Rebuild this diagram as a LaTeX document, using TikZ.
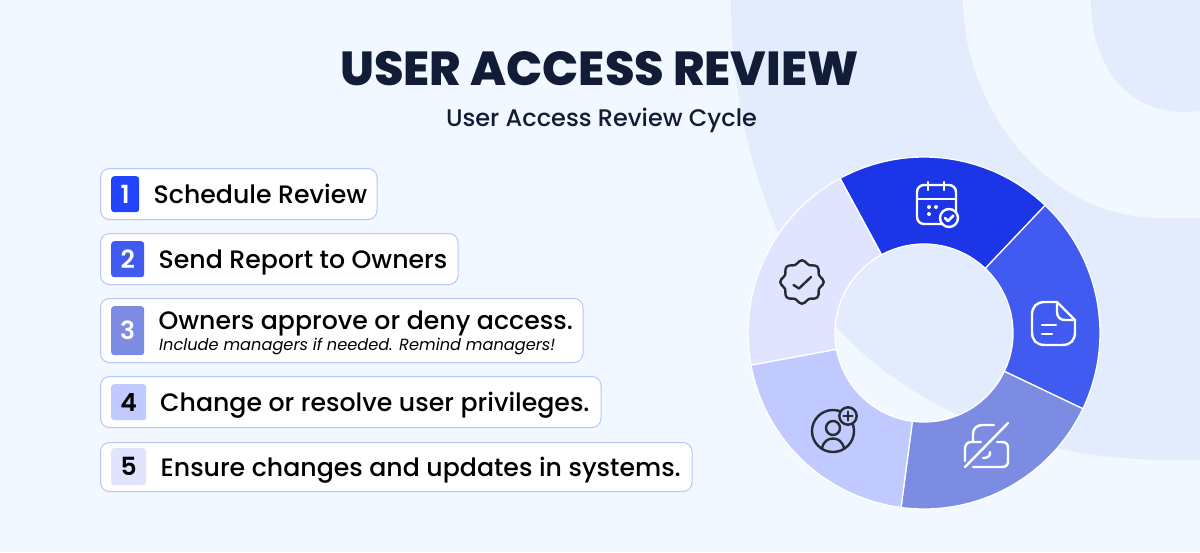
\documentclass[tikz,border=0pt]{standalone}
\usepackage{fontspec}
\setmainfont{Poppins}
\newfontfamily\pmed{Poppins Medium}
\newfontfamily\psemi{Poppins SemiBold}
\newfontfamily\pxb{Poppins ExtraBold}
\definecolor{bgc}{HTML}{F2F8FF}
\definecolor{band}{HTML}{E2ECFC}
\definecolor{segA}{HTML}{1C35E6}
\definecolor{segB}{HTML}{415AEF}
\definecolor{segC}{HTML}{7D8CE3}
\definecolor{segD}{HTML}{C0CAFF}
\definecolor{segE}{HTML}{E0E4FF}
\definecolor{badA}{HTML}{2344FF}
\definecolor{cardline}{HTML}{B9C5FB}
\definecolor{ink}{HTML}{111C36}
\definecolor{icon}{HTML}{272B33}
\tikzset{
  card/.style={draw=cardline,fill=white,line width=1pt,rounded corners=9pt,anchor=north west,inner sep=0pt},
  badge/.style={rounded corners=3pt,anchor=north west,inner sep=0pt,text=white,font=\psemi\fontsize{25}{25}\selectfont},
  lab/.style={anchor=base west,inner sep=0pt,text=black,font=\pmed\fontsize{25.2}{25}\selectfont},
  sector/.style={draw=white,line width=1.3pt,line join=miter},
  wicon/.style={draw=white,line width=2.4pt,line cap=round,line join=round},
  dicon/.style={draw=icon,line width=2.4pt,line cap=round,line join=round}
}
\newcommand{\sect}[3]{\fill[#1,sector] ($(924,-333)+(#2:176)$) arc[start angle=#2,end angle=#3,radius=176] -- ($(924,-333)+(#3:89)$) arc[start angle=#3,end angle=#2,radius=89] -- cycle;}
\usetikzlibrary{calc}
\begin{document}
\begin{tikzpicture}[x=1pt,y=1pt]
\useasboundingbox (0,0) rectangle (1200,-552);
\fill[bgc] (0,0) rectangle (1200,-552);
% background bands
\fill[band] (731,0) .. controls (731,-130) and (772,-250) .. (835,-325)
  .. controls (900,-400) and (1020,-460) .. (1170,-460) -- (1200,-460) -- (1200,0) -- cycle;
\fill[bgc] (963,0) .. controls (963,-100) and (1040,-217) .. (1160,-218) -- (1200,-218) -- (1200,0) -- cycle;
\fill[band] (1091,0) .. controls (1091,-70) and (1130,-112) .. (1185,-112) -- (1200,-111) -- (1200,0) -- cycle;
% title
\node[anchor=base,inner sep=0pt,text=ink,font=\pxb\fontsize{47.7}{48}\selectfont] (title) at (599.5,-85) {USER ACCESS REVIEW};
\node[anchor=base,inner sep=0pt,text=ink,font=\pmed\fontsize{24}{24}\selectfont] (sub) at (601.5,-126) {User Access Review Cycle};
% cards
\node[card,minimum width=276.5,minimum height=51] (c1) at (100,-168) {};
\node[card,minimum width=357.5,minimum height=51] (c2) at (100,-233) {};
\node[card,minimum width=482.5,minimum height=64] (c3) at (100,-298) {};
\node[card,minimum width=500.5,minimum height=51] (c4) at (100,-376) {};
\node[card,minimum width=591.5,minimum height=49] (c5) at (100,-442) {};
\node[badge,fill=badA,minimum width=28,minimum height=36] (b1) at (111,-176) {1};
\node[badge,fill=segB,minimum width=33,minimum height=36] (b2) at (111,-241) {2};
\node[badge,fill=segC,minimum width=33,minimum height=49] (b3) at (111,-306) {3};
\node[badge,fill=segD,text=black,minimum width=35,minimum height=36] (b4) at (111,-384) {4};
\node[badge,fill=segE,text=black,minimum width=35,minimum height=37] (b5) at (111,-448) {5};
\node[lab] (t1) at (153.5,-203) {Schedule Review};
\node[lab] (t2) at (158.5,-268) {Send Report to Owners};
\node[lab] (t3) at (158.5,-329) {Owners approve or deny access.};
\node[anchor=base west,inner sep=0pt,text=black,font=\fontsize{16.2}{16}\selectfont\itshape] (t3b) at (159,-350) {Include managers if needed. Remind managers!};
\node[lab] (t4) at (160,-411) {Change or resolve user privileges.};
\node[lab] (t5) at (160.5,-476) {Ensure changes and updates in systems.};
% donut
\sect{segA}{118.5}{46.5}
\sect{segB}{46.5}{-25.5}
\sect{segC}{-25.5}{-97.5}
\sect{segD}{-97.5}{-169.5}
\sect{segE}{-169.5}{-241.5}
% calendar icon
\draw[wicon] (917,-199) -- (956,-199);
\draw[wicon,rounded corners=7pt] (917,-185) rectangle (956,-224);
\draw[wicon] (928,-182) -- (928,-190) (944,-182) -- (944,-190);
\fill[white] (929,-207) circle (2) (936,-207) circle (2) (929,-214) circle (2);
\draw[wicon,fill=segA] (949,-218) circle (9);
\draw[wicon,line width=2.6pt] (945,-218) -- (948,-221) -- (953.5,-215.5);
% document icon
\draw[wicon] (1057,-302) -- (1045,-302) .. controls (1036,-302) and (1032,-307) .. (1032,-315)
  -- (1032,-332) .. controls (1032,-340) and (1036,-345) .. (1045,-345)
  -- (1062,-345) .. controls (1071,-345) and (1075,-340) .. (1075,-332) -- (1075,-320)
  -- (1057,-302) -- (1057,-312) .. controls (1057,-317) and (1060,-320) .. (1065,-320) -- (1075,-320);
\draw[wicon] (1042,-325) -- (1056,-325) (1042,-334) -- (1052,-334);
% crossed lock icon
\draw[wicon] (973,-442) -- (973,-434) .. controls (973,-428) and (977,-425) .. (983,-425) -- (994,-425);
\draw[wicon] (965,-467) -- (1008,-423);
\draw[wicon] (981,-442) -- (971,-442) .. controls (967,-442) and (965,-445) .. (965,-449) -- (965,-461);
\draw[wicon] (973,-467) -- (1002,-467) .. controls (1006,-467) and (1008,-465) .. (1008,-461)
  -- (1008,-448) .. controls (1008,-444) and (1006,-442) .. (1002,-442) -- (997,-442);
\draw[wicon] (990,-452) .. controls (990.5,-456) and (988,-458) .. (983,-458);
% rosette icon
\draw[dicon] plot[smooth cycle,samples=48,domain=0:352.5,variable=\t] ({802+(20+1.7*cos(8*\t))*cos(\t)},{-282+(20+1.7*cos(8*\t))*sin(\t)});
\draw[dicon] (793.5,-285) -- (799,-288.5) -- (811,-277);
% user icon
\draw[dicon] (833,-431) circle (21);
\draw[dicon] (833,-428) circle (7);
\draw[dicon] (822,-448) .. controls (824,-441) and (828,-438.5) .. (833,-438.5) .. controls (838,-438.5) and (842,-441) .. (844,-448);
\draw[dicon,fill=segD] (848,-416) circle (8.7);
\draw[dicon] (843.5,-416) -- (852.5,-416) (848,-411.5) -- (848,-420.5);
\end{tikzpicture}
\end{document}
